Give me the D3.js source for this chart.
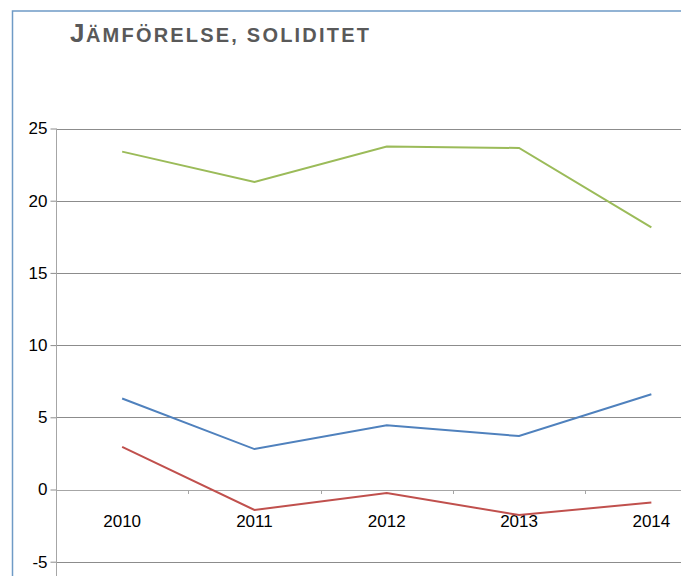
<!DOCTYPE html>
<html>
<head>
<meta charset="utf-8">
<script src="https://cdn.jsdelivr.net/npm/d3@7"></script>
<style>
  body { margin: 0; background: #fff; }
  svg { display: block; font-family: "Liberation Sans", Arial, sans-serif; }
</style>
</head>
<body>
<div id="chart"></div>
<script>
const years = ["2010", "2011", "2012", "2013", "2014"];
const greenSeries = [23.4, 21.3, 23.75, 23.65, 18.15];
const blueSeries = [6.3, 2.8, 4.45, 3.7, 6.6];
const redSeries = [2.95, -1.42, -0.24, -1.77, -0.9];
const yTicks = [-5, 0, 5, 10, 15, 20, 25];

const seriesList = [
    { values: greenSeries, color: "#9bbb59" },
    { values: blueSeries, color: "#4f81bd" },
    { values: redSeries, color: "#c0504d" }
];

const W = 681, H = 576;

const svg = d3.select("#chart")
    .append("svg")
    .attr("width", W)
    .attr("height", H);

// frame (runs off the right and bottom edge)
svg.append("rect")
    .attr("x", 12.5)
    .attr("y", 11)
    .attr("width", W + 20)
    .attr("height", H + 20)
    .attr("fill", "none")
    .attr("stroke", "#6f9bc6")
    .attr("stroke-width", 1.5);

// title
const title = svg.append("text")
    .attr("x", 70)
    .attr("y", 42)
    .attr("fill", "#595959")
    .attr("font-weight", "bold");
title.append("tspan").attr("font-size", 26).attr("letter-spacing", 1.5).text("J");
title.append("tspan").attr("font-size", 20).attr("letter-spacing", 2.2).text("ÄMFÖRELSE, SOLIDITET");

// scales
const x = d3.scaleBand()
    .domain(years)
    .range([56, 56 + 5 * 132.3]);

const y = d3.scaleLinear()
    .domain([-10, 25])
    .range([128.5 + 35 * 14.44, 128.5]);

// gridlines
svg.append("g")
    .selectAll("line")
    .data(yTicks)
    .enter()
    .append("line")
    .attr("x1", 56)
    .attr("x2", W)
    .attr("y1", d => Math.round(y(d)) + 0.5)
    .attr("y2", d => Math.round(y(d)) + 0.5)
    .attr("stroke", d => d === 0 ? "#a6a6a6" : "#8c8c8c")
    .attr("stroke-width", 1);

// y axis
const yAxis = svg.append("g")
    .attr("transform", "translate(56.5,0)")
    .call(d3.axisLeft(y).tickValues(yTicks).tickSize(6).tickPadding(3)
        .tickFormat(d => String(d)));
yAxis.select(".domain").remove();
yAxis.append("line")
    .attr("y1", y(25))
    .attr("y2", H)
    .attr("stroke", "#a6a6a6");
yAxis.selectAll(".tick line").attr("stroke", "#8c8c8c");
yAxis.selectAll(".tick text")
    .attr("font-size", 17)
    .attr("font-family", "Liberation Sans, Arial, sans-serif")
    .attr("fill", "#000");

// x axis on the zero line, ticks between categories
const xBounds = years.slice(1).map(d => x(d));
svg.append("g")
    .selectAll("line")
    .data(xBounds)
    .enter()
    .append("line")
    .attr("x1", d => Math.round(d) + 0.5)
    .attr("x2", d => Math.round(d) + 0.5)
    .attr("y1", Math.round(y(0)))
    .attr("y2", Math.round(y(0)) + 4)
    .attr("stroke", "#a6a6a6");

svg.append("g")
    .selectAll("text")
    .data(years)
    .enter()
    .append("text")
    .attr("x", d => x(d) + x.bandwidth() / 2)
    .attr("y", y(0) + 37)
    .attr("text-anchor", "middle")
    .attr("font-size", 17)
    .attr("fill", "#000")
    .text(d => d);

// lines
const line = d3.line()
    .x((d, i) => x(years[i]) + x.bandwidth() / 2)
    .y(d => y(d));

svg.append("g")
    .selectAll("path")
    .data(seriesList)
    .enter()
    .append("path")
    .attr("d", d => line(d.values))
    .attr("fill", "none")
    .attr("stroke", d => d.color)
    .attr("stroke-width", 2);
</script>
</body>
</html>
